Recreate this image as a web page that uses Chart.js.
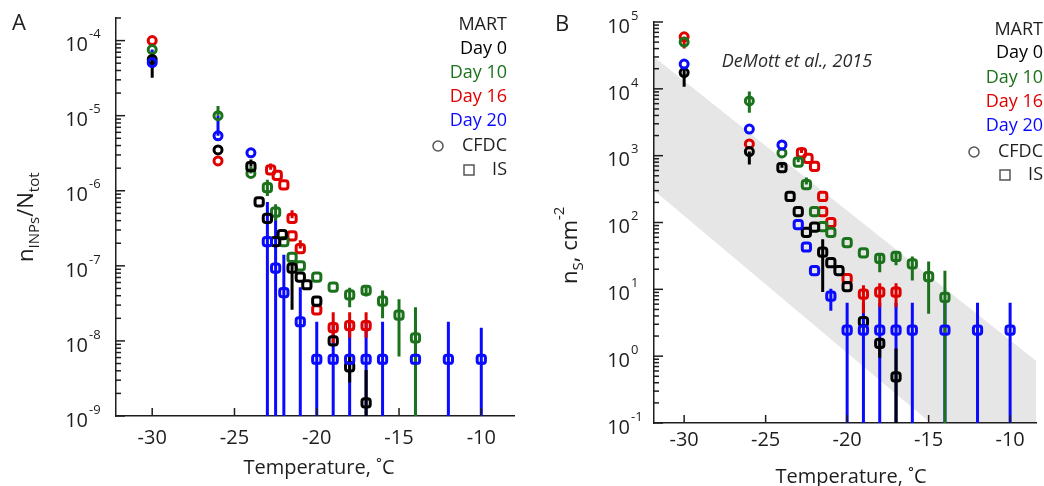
<!DOCTYPE html>
<html><head><meta charset="utf-8">
<script src="https://cdn.jsdelivr.net/npm/chart.js@4.4.1/dist/chart.umd.min.js"></script>
<style>
body{margin:0;background:#fff;width:1044px;height:486px;overflow:hidden;position:relative}
.w{position:absolute;top:0;width:522px;height:486px}
</style></head>
<body>
<div class="w" style="left:0"><canvas id="ca" width="522" height="486"></canvas></div>
<div class="w" style="left:522px"><canvas id="cb" width="522" height="486"></canvas></div>
<script>
// ---------- tick labels / legend ----------
const xTickVals = [-30, -25, -20, -15, -10];
const yExpA = [-9, -8, -7, -6, -5, -4];
const yExpB = [-1, 0, 1, 2, 3, 4, 5];
const legendTitle = 'MART';
const legendDays = ['Day 0', 'Day 10', 'Day 16', 'Day 20'];
const legendMethods = ['CFDC', 'IS'];
const xTitle = 'Temperature, ˚C';
const COL = {d0: '#000000', d10: '#1c721c', d16: '#e00000', d20: '#0a0aff'};

// ---------- Panel A : n_INPs / N_tot ----------
const A_d0_cfdc_T = [-30, -26];
const A_d0_cfdc_v = [5.6e-5, 3.5e-6];
const A_d0_cfdc_lo = [3.2e-5, null];
const A_d0_cfdc_hi = [6.1e-5, null];
const A_d0_is_T = [-24, -23.5, -23, -22.5, -22.1, -21.5, -21, -20.6, -20, -19, -18, -17];
const A_d0_is_v = [2.1e-6, 7.1e-7, 4.3e-7, 2.1e-7, 2.6e-7, 9.3e-8, 7.1e-8, 5.6e-8, 3.4e-8, 1.0e-8, 4.5e-9, 1.5e-9];
const A_d0_is_lo = [null, null, null, null, null, 2.6e-8, null, null, null, null, 2.8e-9, 0];
const A_d0_is_hi = [2.6e-6, null, null, null, null, 1.2e-7, null, null, null, null, 6.2e-9, 4.1e-9];

const A_d10_cfdc_T = [-30, -26, -24];
const A_d10_cfdc_v = [7.6e-5, 1.0e-5, 1.7e-6];
const A_d10_cfdc_lo = [null, null, null];
const A_d10_cfdc_hi = [null, 1.35e-5, 2.1e-6];
const A_d10_is_T = [-23, -22.5, -22, -21.5, -21, -20, -19, -18, -17, -16, -15, -14];
const A_d10_is_v = [1.1e-6, 5.2e-7, 2.1e-7, 1.3e-7, 1.0e-7, 7.1e-8, 5.2e-8, 4.1e-8, 4.7e-8, 3.4e-8, 2.2e-8, 1.1e-8];
const A_d10_is_lo = [8.5e-7, 4.0e-7, null, null, null, null, null, 2.8e-8, 3.9e-8, 2.0e-8, 6.2e-9, 0];
const A_d10_is_hi = [1.4e-6, 6.6e-7, null, null, null, null, null, 5.1e-8, 5.5e-8, 4.7e-8, 3.6e-8, 2.8e-8];

const A_d16_cfdc_T = [-30, -26];
const A_d16_cfdc_v = [1.0e-4, 2.5e-6];
const A_d16_is_T = [-22.8, -22.4, -22, -21.5, -21.5, -21, -20, -19, -18, -17];
const A_d16_is_v = [1.9e-6, 1.6e-6, 1.2e-6, 4.3e-7, 2.5e-7, 1.7e-7, 2.6e-8, 1.5e-8, 1.6e-8, 1.6e-8];
const A_d16_is_lo = [null, null, null, null, null, null, null, 9.4e-9, 1.1e-8, 1.1e-8];
const A_d16_is_hi = [2.3e-6, null, null, 5.5e-7, null, 2.2e-7, null, 2.4e-8, 2.4e-8, 2.4e-8];

const A_d20_cfdc_T = [-30, -26, -24];
const A_d20_cfdc_v = [5.1e-5, 5.4e-6, 3.2e-6];
const A_d20_cfdc_hi = [7.6e-5, 1.0e-5, null];
const A_d20_is_T = [-23, -22.5, -22, -21, -20, -19, -18, -17, -16, -14, -12, -10];
const A_d20_is_v = [2.1e-7, 9.3e-8, 4.4e-8, 1.8e-8, 5.7e-9, 5.7e-9, 5.7e-9, 5.7e-9, 5.7e-9, 5.7e-9, 5.7e-9, 5.7e-9];
const A_d20_is_lo = [0, 0, 0, 0, 0, 0, 0, 0, 0, 0, 0, 0];
const A_d20_is_hi = [7.1e-7, 4.4e-7, 1.4e-7, 5.2e-8, 1.8e-8, 1.8e-8, 1.8e-8, 1.8e-8, 1.8e-8, 1.8e-8, 1.8e-8, 1.5e-8];

// ---------- Panel B : n_S (cm^-2) ----------
const B_band_T = [-31.85, -8.4];
const B_band_upper = [3.0e4, 0.85];
const B_band_lower = [3.0e2, 0.0047];

const B_d0_cfdc_T = [-30, -26];
const B_d0_cfdc_v = [1.75e4, 1150];
const B_d0_cfdc_lo = [1.07e4, 740];
const B_d0_cfdc_hi = [2.1e4, null];
const B_d0_is_T = [-24, -23.5, -23, -22.5, -22, -21.5, -21, -20.5, -20, -19, -18, -17];
const B_d0_is_v = [660, 245, 145, 71, 85, 36, 25, 19, 11, 3.3, 1.55, 0.49];
const B_d0_is_lo = [null, null, null, null, null, 9.1, null, null, null, null, 0.95, 0];
const B_d0_is_hi = [800, null, null, null, null, 56, null, null, null, null, 1.8, 1.3];

const B_d10_cfdc_T = [-30, -26, -24];
const B_d10_cfdc_v = [5.0e4, 6600, 1100];
const B_d10_cfdc_lo = [null, 4400, null];
const B_d10_cfdc_hi = [null, 9100, null];
const B_d10_is_T = [-23, -22.5, -22, -21.5, -21, -20, -19, -18, -17, -16, -15, -14];
const B_d10_is_v = [800, 370, 145, 87, 71, 50, 35, 29, 31, 24, 15.5, 7.6];
const B_d10_is_lo = [null, null, null, null, null, null, null, 18, 23, 13.5, 4.3, 0];
const B_d10_is_hi = [1000, 470, null, null, null, null, null, 34, 36, 31, 26, 19];

const B_d16_cfdc_T = [-30, -26];
const B_d16_cfdc_v = [6.0e4, 1500];
const B_d16_cfdc_lo = [4.0e4, null];
const B_d16_is_T = [-22.8, -22.4, -22, -21.5, -21.5, -21, -20, -19, -18, -17];
const B_d16_is_v = [1100, 910, 690, 245, 145, 100, 14.5, 8.5, 9.1, 9.1];
const B_d16_is_lo = [null, null, null, null, null, null, null, 4.4, 5.4, 5.4];
const B_d16_is_hi = [1350, null, null, null, null, null, null, 11.5, 12.3, 12.3];

const B_d20_cfdc_T = [-30, -26, -24];
const B_d20_cfdc_v = [2.35e4, 2500, 1450];
const B_d20_is_T = [-23, -22.5, -22, -21, -20, -19, -18, -17, -16, -14, -12, -10];
const B_d20_is_v = [93, 43, 19, 7.9, 2.45, 2.45, 2.45, 2.45, 2.45, 2.45, 2.45, 2.45];
const B_d20_is_lo = [null, null, null, 4.8, 0, 0, 0, 0, 0, 0, 0, 0];
const B_d20_is_hi = [null, null, null, 10.2, 6.3, 6.3, 6.3, 6.3, 6.3, 6.3, 6.3, 6.3];

// ---------- helpers ----------
const AX = '#1e1e1e';
const FONT = '"Open Sans", "DejaVu Sans", sans-serif';

function series(T, v, lo, hi, color, shape, z) {
  return {
    type: 'scatter',
    data: T.map((t, i) => ({x: t, y: v[i], lo: lo ? lo[i] : null, hi: hi ? hi[i] : null})),
    pointStyle: shape === 'c' ? 'circle' : 'rectRounded',
    pointRadius: shape === 'c' ? 4 : 4.8,
    pointBorderWidth: 3,
    pointBorderColor: color,
    pointBackgroundColor: 'rgba(255,255,255,0)',
    showLine: false,
    order: 0,
    errColor: color,
    errZ: z,
    isErr: true
  };
}

const errPlugin = {
  id: 'errbars',
  beforeDatasetsDraw(chart) {
    const {ctx, chartArea: ca} = chart;
    const ys = chart.scales.y, xs = chart.scales.x;
    ctx.save();
    ctx.beginPath(); ctx.rect(ca.left, ca.top, ca.width, ca.height); ctx.clip();
    const idx = chart.data.datasets.map((d, i) => i).filter(i => chart.data.datasets[i].isErr)
      .sort((a, b) => chart.data.datasets[a].errZ - chart.data.datasets[b].errZ);
    idx.forEach(i => {
      const ds = chart.data.datasets[i];
      ctx.strokeStyle = ds.errColor; ctx.lineWidth = 3;
      ds.data.forEach(p => {
        if (p.lo == null && p.hi == null) return;
        const px = xs.getPixelForValue(p.x);
        const yv = ys.getPixelForValue(p.y);
        const y1 = p.hi != null ? ys.getPixelForValue(p.hi) : yv;
        const y2 = p.lo == null ? yv : (p.lo === 0 ? ca.bottom : ys.getPixelForValue(p.lo));
        ctx.beginPath(); ctx.moveTo(px, y1); ctx.lineTo(px, y2); ctx.stroke();
      });
    });
    ctx.restore();
  }
};

function decoPlugin(o) {
  return {
    id: 'deco',
    afterDraw(chart) {
      const {ctx, chartArea: ca} = chart;
      const xs = chart.scales.x, ys = chart.scales.y;
      ctx.save();
      ctx.strokeStyle = AX; ctx.fillStyle = AX; ctx.lineWidth = 1.5;
      // x ticks + labels
      ctx.font = '20px ' + FONT; ctx.textAlign = 'center'; ctx.textBaseline = 'middle';
      xTickVals.forEach(t => {
        const px = xs.getPixelForValue(t);
        ctx.beginPath(); ctx.moveTo(px, ca.bottom); ctx.lineTo(px, ca.bottom - 8); ctx.stroke();
        ctx.fillText(String(t), px, ca.bottom + o.xLblOff);
      });
      // y ticks + labels
      o.yExp.forEach(e => {
        const v = Math.pow(10, e);
        const py = ys.getPixelForValue(v);
        ctx.beginPath(); ctx.moveTo(ca.left, py); ctx.lineTo(ca.left + 9, py); ctx.stroke();
        for (let m = 2; m <= 9; m++) {
          const mv = m * v;
          if (mv > o.yMax * 1.0001) break;
          const pm = ys.getPixelForValue(mv);
          ctx.beginPath(); ctx.moveTo(ca.left, pm); ctx.lineTo(ca.left + 5, pm); ctx.stroke();
        }
        ctx.font = '20px ' + FONT; ctx.textAlign = 'right'; ctx.textBaseline = 'middle';
        ctx.fillText('10', ca.left - o.yLblOff, py + 5);
        ctx.font = '13px ' + FONT; ctx.textAlign = 'left';
        ctx.fillText(String(e), ca.left - o.yLblOff + 1, py - 6);
      });
      // x title
      ctx.font = '20px ' + FONT; ctx.textAlign = 'center'; ctx.textBaseline = 'middle';
      ctx.fillText(xTitle, o.xTitleX, o.xTitleY);
      // panel letter
      ctx.font = '22px ' + FONT; ctx.textAlign = 'center';
      ctx.fillText(o.letter, o.letterX, o.letterY);
      // legend
      ctx.font = '18px ' + FONT; ctx.textAlign = 'right';
      ctx.fillStyle = AX; ctx.fillText(legendTitle, o.legX, o.legY[0]);
      const dc = [COL.d0, COL.d10, COL.d16, COL.d20];
      legendDays.forEach((d, k) => { ctx.fillStyle = dc[k]; ctx.fillText(d, o.legX, o.legY[k + 1]); });
      ctx.fillStyle = AX;
      ctx.fillText(legendMethods[0], o.legX, o.legY[5]);
      ctx.fillText(legendMethods[1], o.legX, o.legY[6]);
      ctx.strokeStyle = '#555'; ctx.lineWidth = 1.5;
      ctx.beginPath(); ctx.arc(o.circX, o.legY[5], 5, 0, Math.PI * 2); ctx.stroke();
      ctx.strokeRect(o.sqX - 5, o.legY[6] - 5, 10, 10);
      // y title
      ctx.fillStyle = AX;
      ctx.translate(o.yTitleX, o.yTitleY); ctx.rotate(-Math.PI / 2);
      ctx.textAlign = 'left'; ctx.textBaseline = 'alphabetic';
      let cx = 0;
      o.yTitle.forEach(seg => {
        ctx.font = seg[1] + 'px ' + FONT;
        ctx.fillText(seg[0], cx, seg[2]);
        cx += ctx.measureText(seg[0]).width;
      });
      ctx.restore();
      if (o.extra) o.extra(ctx);
    }
  };
}

function scales(xmin, xmax, ymin, ymax) {
  const common = {display: true, ticks: {display: false},
    grid: {display: true, drawOnChartArea: false, drawTicks: false},
    border: {display: true, color: AX, width: 1.5}};
  return {
    x: Object.assign({type: 'linear', min: xmin, max: xmax, afterFit(s) { s.height = 0; }}, common),
    y: Object.assign({type: 'logarithmic', min: ymin, max: ymax, afterFit(s) { s.width = 0; }}, common)
  };
}

const baseOpts = {
  responsive: false, animation: false, events: [],
  plugins: {legend: {display: false}, tooltip: {enabled: false}, filler: {drawTime: 'beforeDraw'}}
};

// ---------- Panel A ----------
new Chart(document.getElementById('ca'), {
  type: 'scatter',
  data: {datasets: [
    series(A_d20_is_T, A_d20_is_v, A_d20_is_lo, A_d20_is_hi, COL.d20, 's', 0),
    series(A_d20_cfdc_T, A_d20_cfdc_v, null, A_d20_cfdc_hi, COL.d20, 'c', 0),
    series(A_d0_is_T, A_d0_is_v, A_d0_is_lo, A_d0_is_hi, COL.d0, 's', 1),
    series(A_d0_cfdc_T, A_d0_cfdc_v, A_d0_cfdc_lo, A_d0_cfdc_hi, COL.d0, 'c', 1),
    series(A_d10_is_T, A_d10_is_v, A_d10_is_lo, A_d10_is_hi, COL.d10, 's', 2),
    series(A_d10_cfdc_T, A_d10_cfdc_v, A_d10_cfdc_lo, A_d10_cfdc_hi, COL.d10, 'c', 2),
    series(A_d16_is_T, A_d16_is_v, A_d16_is_lo, A_d16_is_hi, COL.d16, 's', 3),
    series(A_d16_cfdc_T, A_d16_cfdc_v, null, null, COL.d16, 'c', 3)
  ]},
  options: Object.assign({}, baseOpts, {
    layout: {padding: {left: 116, right: 5, top: 18, bottom: 70}},
    scales: scales(-32.2, -8, 1e-9, 2e-4)
  }),
  plugins: [errPlugin, decoPlugin({
    yExp: yExpA, yMax: 2e-4, xLblOff: 22, yLblOff: 28,
    xTitleX: 319, xTitleY: 468, letter: 'A', letterX: 19, letterY: 24,
    legX: 507, legY: [25, 49, 73, 97, 121, 146, 170], circX: 438, sqX: 469,
    yTitleX: 33, yTitleY: 262,
    yTitle: [['n', 22, 0], ['INPs', 15, 6], ['/N', 22, 0], ['tot', 15, 6]]
  })]
});

// ---------- Panel B ----------
new Chart(document.getElementById('cb'), {
  type: 'scatter',
  data: {datasets: [
    {type: 'line', data: B_band_T.map((t, i) => ({x: t, y: B_band_upper[i]})), fill: '+1',
      backgroundColor: '#e6e6e6', borderWidth: 0, pointRadius: 0, order: 10},
    {type: 'line', data: B_band_T.map((t, i) => ({x: t, y: B_band_lower[i]})), fill: false,
      backgroundColor: '#e6e6e6', borderWidth: 0, pointRadius: 0, order: 10},
    series(B_d20_is_T, B_d20_is_v, B_d20_is_lo, B_d20_is_hi, COL.d20, 's', 0),
    series(B_d20_cfdc_T, B_d20_cfdc_v, null, null, COL.d20, 'c', 0),
    series(B_d0_is_T, B_d0_is_v, B_d0_is_lo, B_d0_is_hi, COL.d0, 's', 1),
    series(B_d0_cfdc_T, B_d0_cfdc_v, B_d0_cfdc_lo, B_d0_cfdc_hi, COL.d0, 'c', 1),
    series(B_d10_is_T, B_d10_is_v, B_d10_is_lo, B_d10_is_hi, COL.d10, 's', 2),
    series(B_d10_cfdc_T, B_d10_cfdc_v, B_d10_cfdc_lo, B_d10_cfdc_hi, COL.d10, 'c', 2),
    series(B_d16_is_T, B_d16_is_v, B_d16_is_lo, B_d16_is_hi, COL.d16, 's', 3),
    series(B_d16_cfdc_T, B_d16_cfdc_v, B_d16_cfdc_lo, null, COL.d16, 'c', 3)
  ]},
  options: Object.assign({}, baseOpts, {
    layout: {padding: {left: 132, right: 0, top: 22, bottom: 63}},
    scales: scales(-31.85, -8.4, 0.1, 1e5)
  }),
  plugins: [errPlugin, decoPlugin({
    yExp: yExpB, yMax: 1e5, xLblOff: 17, yLblOff: 24,
    xTitleX: 329, xTitleY: 477, letter: 'B', letterX: 40, letterY: 25,
    legX: 521, legY: [30, 53, 78, 102, 126, 152, 175], circX: 452, sqX: 483,
    yTitleX: 55, yTitleY: 284,
    yTitle: [['n', 22, 0], ['S', 15, 6], [', cm', 22, 0], ['-2', 15, -13]],
    extra(ctx) {
      ctx.save(); ctx.fillStyle = '#2a2a2a'; ctx.font = 'italic 18px ' + FONT;
      ctx.textAlign = 'center'; ctx.textBaseline = 'middle';
      ctx.fillText('DeMott et al., 2015', 275, 62); ctx.restore();
    }
  })]
});
</script>
</body></html>
